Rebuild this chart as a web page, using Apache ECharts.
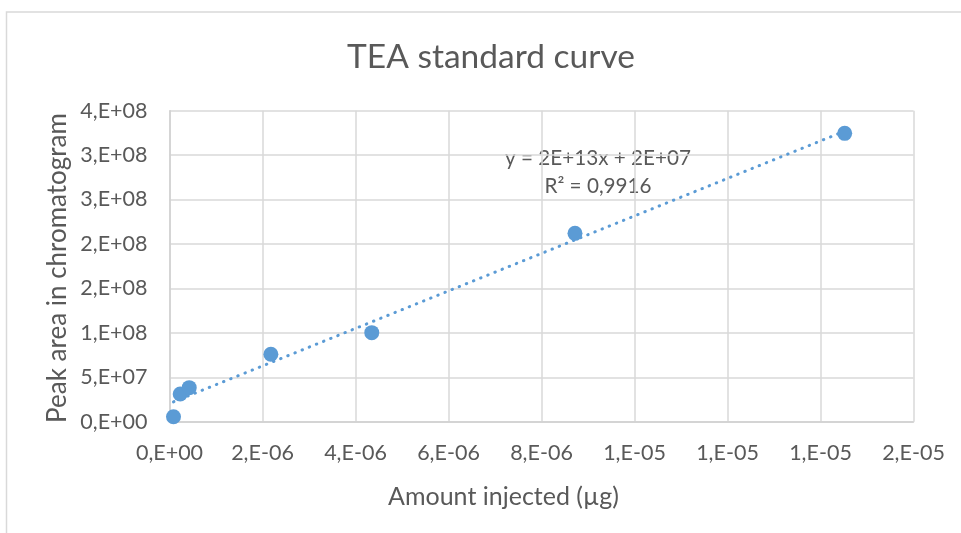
<!DOCTYPE html>
<html>
<head>
<meta charset="utf-8">
<script src="https://cdn.jsdelivr.net/npm/echarts@6/dist/echarts.min.js"></script>
<style>
html,body{margin:0;padding:0;background:#fff;}
#c{width:961px;height:533px;}
</style>
</head>
<body>
<div id="c"></div>
<script>
// Data
var amountInjected = [0.086e-6, 0.23e-6, 0.424e-6, 2.18e-6, 4.35e-6, 8.72e-6, 14.52e-6];
var peakArea = [5.6e6, 3.12e7, 3.83e7, 7.59e7, 1.002e8, 2.12e8, 3.245e8];
var xTickLabels = ['0,E+00','2,E-06','4,E-06','6,E-06','8,E-06','1,E-05','1,E-05','1,E-05','2,E-05'];
var yTickLabels = ['0,E+00','5,E+07','1,E+08','2,E+08','2,E+08','3,E+08','3,E+08','4,E+08'];
var equationText = 'y = 2E+13x + 2E+07';
var r2Text = 'R² = 0,9916';
var titleText = 'TEA standard curve';
var xAxisTitle = 'Amount injected (µg)';
var yAxisTitle = 'Peak area in chromatogram';

var X_INTERVAL = 2e-6, Y_INTERVAL = 5e7;

// least squares trendline from the data
function linFit(xs, ys){
  var n = xs.length, sx=0, sy=0;
  for (var i=0;i<n;i++){ sx+=xs[i]; sy+=ys[i]; }
  var mx=sx/n, my=sy/n, sxy=0, sxx=0;
  for (var j=0;j<n;j++){ sxy+=(xs[j]-mx)*(ys[j]-my); sxx+=(xs[j]-mx)*(xs[j]-mx); }
  var b = sxy/sxx; return {slope:b, intercept: my-b*mx};
}
var fit = linFit(amountInjected, peakArea);
var xMin = Math.min.apply(null, amountInjected), xMax = Math.max.apply(null, amountInjected);
var trend = [[xMin, fit.intercept + fit.slope*xMin],[xMax, fit.intercept + fit.slope*xMax]];
var points = amountInjected.map(function(x,i){ return [x, peakArea[i]]; });

var FONT = 'Lato';
var TXT = '#595959';
var chart = echarts.init(document.getElementById('c'), null, {renderer:'canvas'});
chart.setOption({
  animation:false,
  backgroundColor:'#fff',
  grid:{left:169.5, right:47.5, top:110.7, bottom:111.3, containLabel:false},
  xAxis:{
    type:'value', min:0, max:1.6e-5, interval:X_INTERVAL,
    axisLine:{show:true, lineStyle:{color:'#D0D0D0', width:1.5}},
    axisTick:{show:false},
    axisLabel:{fontFamily:FONT, fontSize:21.5, color:TXT, margin:20,
      formatter:function(v){ return xTickLabels[Math.round(v/X_INTERVAL)]; }},
    splitLine:{show:true, lineStyle:{color:'#D9D9D9', width:1.5}}
  },
  yAxis:{
    type:'value', min:0, max:3.5e8, interval:Y_INTERVAL,
    axisLine:{show:true, lineStyle:{color:'#D0D0D0', width:1.5}},
    axisTick:{show:false},
    axisLabel:{fontFamily:FONT, fontSize:21.5, color:TXT, margin:22,
      formatter:function(v){ return yTickLabels[Math.round(v/Y_INTERVAL)]; }},
    splitLine:{show:true, lineStyle:{color:'#D9D9D9', width:1.5}}
  },
  series:[
    {type:'line', data:trend, showSymbol:false, symbol:'none', z:3,
      lineStyle:{color:'#5B9BD5', width:3, type:[0.5,7.2], cap:'round'}},
    {type:'scatter', data:points, symbol:'circle', symbolSize:15, z:4,
      itemStyle:{color:'#5B9BD5', opacity:1}}
  ],
  graphic:[
    {type:'rect', silent:true, shape:{x:6.5, y:12, width:1200, height:800},
      style:{fill:'none', stroke:'#D9D9D9', lineWidth:1.5}, z:-1},
    {type:'text', x:491, y:57, style:{text:titleText, font:'33.5px Lato', fill:TXT, textAlign:'center', textVerticalAlign:'middle'}},
    {type:'text', x:503.5, y:497, style:{text:xAxisTitle, font:'25px Lato', fill:TXT, textAlign:'center', textVerticalAlign:'middle'}},
    {type:'text', x:58, y:268, rotation:Math.PI/2, style:{text:yAxisTitle, font:'26px Lato', fill:TXT, textAlign:'center', textVerticalAlign:'middle'}},
    {type:'text', x:598, y:158, style:{text:equationText, font:'20.7px Lato', fill:TXT, textAlign:'center', textVerticalAlign:'middle'}},
    {type:'text', x:598, y:186, style:{text:r2Text, font:'20.7px Lato', fill:TXT, textAlign:'center', textVerticalAlign:'middle'}}
  ]
});
</script>
</body>
</html>
